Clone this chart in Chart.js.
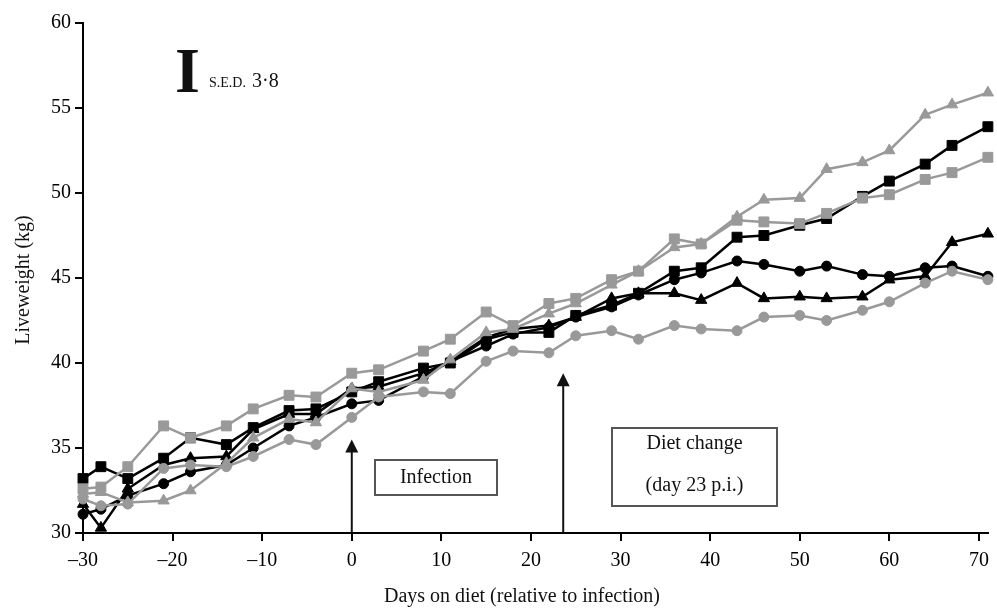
<!DOCTYPE html>
<html>
<head>
<meta charset="utf-8">
<script src="https://cdn.jsdelivr.net/npm/chart.js@4"></script>
<style>
  html, body { margin: 0; padding: 0; background: #fff; }
  #wrap { width: 997px; height: 611px; }
</style>
</head>
<body>
<div id="wrap"><canvas id="chart" width="997" height="611"></canvas></div>
<script>
// days relative to infection
const days = [-30, -28, -25, -21, -18, -14, -11, -7, -4, 0, 3, 8, 11, 15, 18, 22, 25, 29, 32, 36, 39, 43, 46, 50, 53, 57, 60, 64, 67, 71];

// liveweight (kg) per group
const blackSquare = [33.2, 33.9, 33.2, 34.4, 35.6, 35.2, 36.2, 37.2, 37.3, 38.3, 38.9, 39.7, 40.0, 41.4, 41.8, 41.8, 42.8, 43.4, 44.1, 45.4, 45.6, 47.4, 47.5, 48.1, 48.5, 49.8, 50.7, 51.7, 52.8, 53.9];
const blackCircle = [31.1, 31.4, 32.2, 32.9, 33.6, 34.0, 35.0, 36.3, 36.8, 37.6, 37.8, 39.2, 40.1, 41.0, 41.7, 42.1, 42.7, 43.3, 44.0, 44.9, 45.3, 46.0, 45.8, 45.4, 45.7, 45.2, 45.1, 45.6, 45.7, 45.1];
const blackTriangle = [31.7, 30.3, 32.6, 34.0, 34.4, 34.5, 36.1, 37.0, 37.0, 38.5, 38.6, 39.4, 40.1, 41.5, 42.0, 42.2, 42.7, 43.8, 44.1, 44.1, 43.7, 44.7, 43.8, 43.9, 43.8, 43.9, 44.9, 45.1, 47.1, 47.6];
const graySquare = [32.6, 32.7, 33.9, 36.3, 35.6, 36.3, 37.3, 38.1, 38.0, 39.4, 39.6, 40.7, 41.4, 43.0, 42.2, 43.5, 43.8, 44.9, 45.4, 47.3, 47.0, 48.4, 48.3, 48.2, 48.8, 49.7, 49.9, 50.8, 51.2, 52.1];
const grayCircle = [32.0, 31.6, 31.7, 33.8, 34.0, 33.9, 34.5, 35.5, 35.2, 36.8, 38.0, 38.3, 38.2, 40.1, 40.7, 40.6, 41.6, 41.9, 41.4, 42.2, 42.0, 41.9, 42.7, 42.8, 42.5, 43.1, 43.6, 44.7, 45.4, 44.9];
const grayTriangle = [32.3, 32.4, 31.8, 31.9, 32.5, 34.1, 35.6, 36.7, 36.5, 38.5, 38.3, 39.0, 40.2, 41.8, 42.0, 42.9, 43.5, 44.6, 45.4, 46.8, 47.0, 48.6, 49.6, 49.7, 51.4, 51.8, 52.5, 54.6, 55.2, 55.9];

const xTicks = [-30, -20, -10, 0, 10, 20, 30, 40, 50, 60, 70];

// arrows: day and tip weight
const infectionDay = 0, infectionTip = 35.5;
const dietDay = 23.6, dietTip = 39.4;

const BLACK = '#000000';
const GRAY = '#999999';
const SERIF = "'Liberation Serif', 'Times New Roman', serif";

function series(values, color, style, radius) {
    return {
        data: days.map((d, i) => ({x: d, y: values[i]})),
        borderColor: color,
        backgroundColor: color,
        borderWidth: 2.5,
        pointStyle: style,
        pointRadius: radius,
        pointHoverRadius: radius,
        pointBorderWidth: 1,
        tension: 0,
        clip: false
    };
}

function arrow(ctx, x, yBase, yTip) {
    ctx.save();
    ctx.strokeStyle = '#111';
    ctx.fillStyle = '#111';
    ctx.lineWidth = 2;
    ctx.beginPath();
    ctx.moveTo(x, yBase);
    ctx.lineTo(x, yTip + 10);
    ctx.stroke();
    ctx.beginPath();
    ctx.moveTo(x, yTip);
    ctx.lineTo(x - 6.5, yTip + 13);
    ctx.lineTo(x + 6.5, yTip + 13);
    ctx.closePath();
    ctx.fill();
    ctx.restore();
}

function box(ctx, x, y, w, h, lines, lineYs) {
    ctx.save();
    ctx.fillStyle = '#fff';
    ctx.fillRect(x, y, w, h);
    ctx.strokeStyle = '#555';
    ctx.lineWidth = 2;
    ctx.strokeRect(x, y, w, h);
    ctx.fillStyle = '#111';
    ctx.font = '20px ' + SERIF;
    ctx.textAlign = 'center';
    ctx.textBaseline = 'middle';
    lines.forEach((t, i) => ctx.fillText(t, x + w / 2, lineYs[i]));
    ctx.restore();
}

const annotations = {
    id: 'annotations',
    afterDraw(chart) {
        const ctx = chart.ctx;
        const xs = chart.scales.x, ys = chart.scales.y;
        const base = ys.getPixelForValue(30);

        arrow(ctx, xs.getPixelForValue(infectionDay), base, ys.getPixelForValue(infectionTip));
        arrow(ctx, xs.getPixelForValue(dietDay), base, ys.getPixelForValue(dietTip));

        box(ctx, 375, 460, 122, 35, ['Infection'], [478]);
        box(ctx, 612, 428, 165, 78, ['Diet change', '(day 23 p.i.)'], [444, 486]);

        // S.E.D. bar
        ctx.save();
        ctx.fillStyle = '#111';
        ctx.textBaseline = 'alphabetic';
        ctx.font = 'bold 64px ' + SERIF;
        ctx.fillText('I', 175, 92);
        ctx.font = '14px ' + SERIF;
        ctx.fillText('S.E.D.', 209, 87);
        ctx.font = '20px ' + SERIF;
        ctx.fillText('3·8', 252, 87);

        // axis titles
        ctx.font = '20px ' + SERIF;
        ctx.textAlign = 'center';
        ctx.textBaseline = 'middle';
        ctx.fillText('Days on diet (relative to infection)', 522, 597);
        ctx.translate(24, 280);
        ctx.rotate(-Math.PI / 2);
        ctx.fillText('Liveweight (kg)', 0, 0);
        ctx.restore();
    }
};

new Chart(document.getElementById('chart'), {
    type: 'line',
    data: {
        datasets: [
            series(grayCircle, GRAY, 'circle', 5),
            series(grayTriangle, GRAY, 'triangle', 6.5),
            series(graySquare, GRAY, 'rect', 7),
            series(blackCircle, BLACK, 'circle', 5),
            series(blackTriangle, BLACK, 'triangle', 6.5),
            series(blackSquare, BLACK, 'rect', 7)
        ]
    },
    options: {
        responsive: false,
        animation: false,
        devicePixelRatio: 1,
        layout: { padding: { left: 0, top: 23, right: 4, bottom: 0 } },
        plugins: { legend: { display: false }, tooltip: { enabled: false } },
        scales: {
            x: {
                type: 'linear',
                min: -30,
                max: 71,
                afterBuildTicks(scale) {
                    scale.ticks = xTicks.map(v => ({value: v}));
                },
                afterFit(scale) { scale.height = 78; },
                grid: { display: true, drawOnChartArea: false, drawTicks: true, tickLength: 8, color: '#000', lineWidth: 2 },
                border: { display: true, color: '#000', width: 2 },
                ticks: {
                    color: '#000',
                    padding: 8,
                    maxRotation: 0,
                    font: { family: SERIF, size: 20 },
                    callback: v => String(v).replace('-', '\u2013')
                }
            },
            y: {
                min: 30,
                max: 60,
                afterFit(scale) { scale.width = 83; },
                grid: { display: true, drawOnChartArea: false, drawTicks: true, tickLength: 8, color: '#000', lineWidth: 2 },
                border: { display: true, color: '#000', width: 2 },
                ticks: {
                    color: '#000',
                    stepSize: 5,
                    padding: 4,
                    font: { family: SERIF, size: 20 }
                }
            }
        }
    },
    plugins: [annotations]
});
</script>
</body>
</html>
